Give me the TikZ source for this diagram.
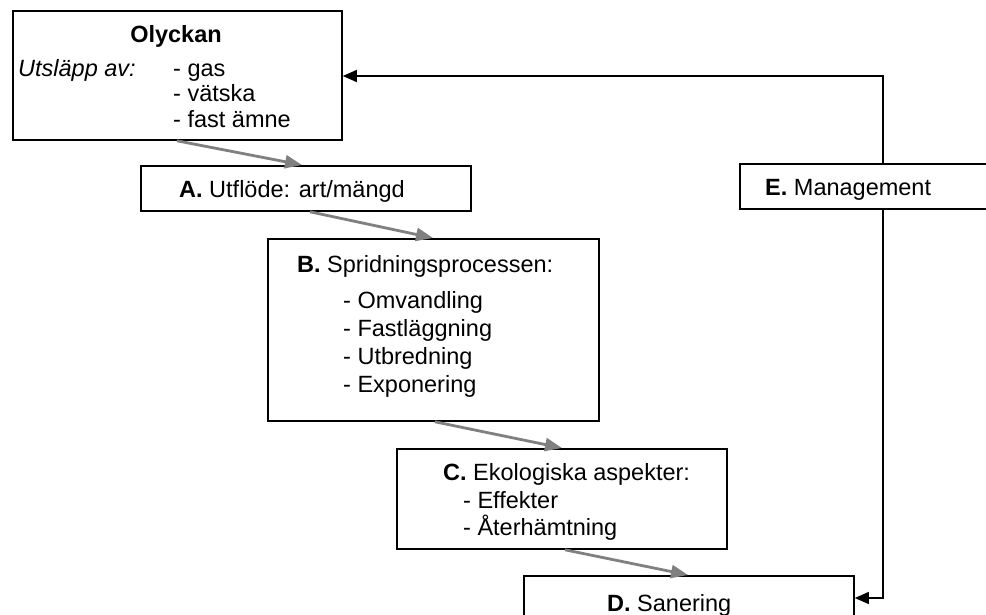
\documentclass[tikz,border=0pt]{standalone}
\usepackage{fontspec}
\setmainfont{Liberation Sans}
\usetikzlibrary{arrows.meta,calc}
\definecolor{arrowgray}{RGB}{128,128,128}
\tikzset{
  box/.style={draw=black, line width=1.8pt, fill=white, inner sep=0pt, anchor=north west},
  txt/.style={anchor=base west, inner sep=0pt, font=\fontsize{23.5}{27}\selectfont},
  flow/.style={draw=arrowgray, line width=2.8pt, -{Triangle[length=17pt,width=13pt]}},
  ctrl/.style={draw=black, line width=1.3pt, -{Triangle[length=14pt,width=12pt]}}
}
\begin{document}
\begin{tikzpicture}[x=1pt,y=-1pt]
\useasboundingbox (0,0) rectangle (986,615);
\clip (0,0) rectangle (986,615);
% boxes
\node[box, minimum width=329pt, minimum height=129pt] (ol) at (12,10) {};
\node[box, minimum width=330pt, minimum height=45pt] (a) at (140,165) {};
\node[box, minimum width=270pt, minimum height=45pt] (e) at (739,163) {};
\node[box, minimum width=331pt, minimum height=182pt] (b) at (267,238) {};
\node[box, minimum width=330pt, minimum height=100pt] (c) at (396,448) {};
\node[box, minimum width=330pt, minimum height=60pt] (d) at (523,575) {};
% texts
\node[txt, anchor=base, font=\fontsize{23.5}{27}\selectfont\bfseries] (olt) at (176,43) {Olyckan};
\node[txt] (olu) at (18,77) {\itshape Utsläpp av:};
\node[txt] (ol1) at (173,77) {- gas};
\node[txt] (ol2) at (173,102) {- vätska};
\node[txt] (ol3) at (173,128) {- fast ämne};
\node[txt] (at) at (179,198) {\textbf{A.} Utflöde: art/mängd};
\node[txt] (et) at (765,196) {\textbf{E.} Management};
\node[txt] (bt) at (297,272) {\textbf{B.} Spridningsprocessen:};
\node[txt] (b1) at (343,308) {- Omvandling};
\node[txt] (b2) at (343,336) {- Fastläggning};
\node[txt] (b3) at (343,364) {- Utbredning};
\node[txt] (b4) at (343,392) {- Exponering};
\node[txt] (ct) at (443,480) {\textbf{C.} Ekologiska aspekter:};
\node[txt] (c1) at (463,508) {- Effekter};
\node[txt] (c2) at (463,535) {- Återhämtning};
\node[txt] (dt) at (607,611) {\textbf{D.} Sanering};
% gray flow arrows
\draw[flow] ($(ol.south west)+(165,0)$) -- ($(a.north west)+(162,0)$);
\draw[flow] ($(a.south west)+(170,0)$) -- ($(b.north west)+(166,0)$);
\draw[flow] ($(b.south west)+(168,0)$) -- ($(c.north west)+(166,0)$);
\draw[flow] ($(c.south west)+(169,0)$) -- ($(d.north west)+(165,0)$);
% management feedback
\coordinate (etop) at ($(e.north west)+(144,0)$);
\coordinate (ebot) at ($(e.south west)+(144,0)$);
\draw[ctrl] (etop) |- ($(ol.north east)+(0,66)$);
\draw[ctrl] (ebot) |- ($(d.north east)+(0,23)$);
\end{tikzpicture}
\end{document}
